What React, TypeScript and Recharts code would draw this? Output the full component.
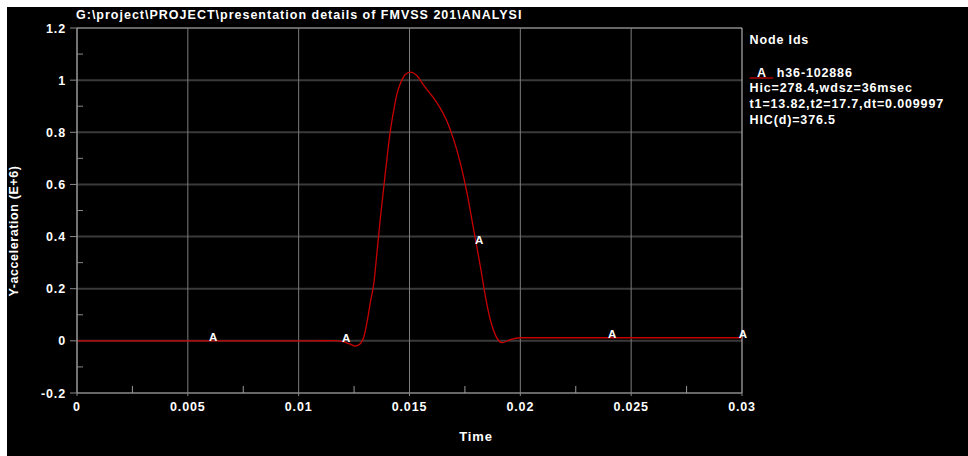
import React from 'react';
import { ComposedChart, Line, Scatter, XAxis, YAxis, ReferenceLine } from 'recharts';

// Head acceleration trace (time in s, Y-acceleration in E+6)
const timeSec = [
  0, 0.002, 0.004, 0.006, 0.008, 0.010, 0.0107, 0.0115, 0.0120, 0.0123,
  0.01256, 0.01279, 0.01294, 0.01309, 0.01324, 0.01339, 0.01354, 0.01369, 0.01384, 0.01399,
  0.01414, 0.01429, 0.01444, 0.01459, 0.01481, 0.01504, 0.01534, 0.01564, 0.01587, 0.0161,
  0.0164, 0.0167, 0.017, 0.0173, 0.0176, 0.0179, 0.0182, 0.01843, 0.01865, 0.01888,
  0.01918, 0.01955, 0.0200, 0.022, 0.024, 0.026, 0.028, 0.030,
];
const yAccel = [
  0, 0, 0, 0, 0, 0, 0, 0.001, -0.003, -0.012,
  -0.02, -0.01, 0.015, 0.075, 0.15, 0.22, 0.345, 0.475, 0.59, 0.705,
  0.808, 0.885, 0.949, 0.987, 1.022, 1.031, 1.017, 0.98, 0.955, 0.93,
  0.891, 0.84, 0.77, 0.68, 0.565, 0.424, 0.284, 0.168, 0.079, 0.021,
  -0.007, 0.005, 0.012, 0.012, 0.012, 0.012, 0.012, 0.012,
];

// Curve identifier markers ("A") placed along the trace
const markerTimes = [0.0061, 0.0121, 0.0181, 0.0241, 0.030];
const markerValues = [0, -0.003, 0.37, 0.012, 0.012];

const xMajorTicks = [0, 0.005, 0.01, 0.015, 0.02, 0.025, 0.03];
const xMinorTicks = [0.0025, 0.0075, 0.0125, 0.0175, 0.0225, 0.0275];
const yMajorTicks = [-0.2, 0, 0.2, 0.4, 0.6, 0.8, 1, 1.2];
const yMinorTicks = [-0.1, 0.1, 0.3, 0.5, 0.7, 0.9, 1.1];

const titleText = 'G:\\project\\PROJECT\\presentation details of FMVSS 201\\ANALYSI';
const legendHeader = 'Node Ids';
const legendCurveTag = 'A';
const legendCurveName = 'h36-102886';
const legendInfo = [
  'Hic=278.4,wdsz=36msec',
  't1=13.82,t2=17.7,dt=0.009997',
  'HIC(d)=376.5',
];

const curveData = timeSec.map((t, i) => ({ t, a: yAccel[i] }));
const markerData = markerTimes.map((t, i) => ({ t, a: markerValues[i] }));

const FONT = '"Liberation Sans", Arial, Helvetica, sans-serif';
const RED = '#c80000';
const SPACING = 0.85;

const XTick = (props: any) => {
  const { x, y, payload } = props;
  const v = payload.value;
  if (!xMajorTicks.includes(v)) {
    return <line x1={x} x2={x} y1={y} y2={y - 7} stroke="#9a9a9a" strokeWidth={1} />;
  }
  return (
    <g>
      <line x1={x} x2={x} y1={y} y2={y + 3} stroke="#8a8a8a" strokeWidth={1} />
      <text x={x} y={y + 18} textAnchor="middle" fill="#ffffff" fontSize={12.5} fontWeight="bold" fontFamily={FONT} letterSpacing={SPACING}>
        {String(v)}
      </text>
    </g>
  );
};

const YTick = (props: any) => {
  const { x, y, payload } = props;
  const v = payload.value;
  if (!yMajorTicks.includes(v)) {
    return <line x1={x} x2={x + 6} y1={y} y2={y} stroke="#8a8a8a" strokeWidth={1} />;
  }
  return (
    <g>
      <line x1={x - 7} x2={x} y1={y} y2={y} stroke="#8a8a8a" strokeWidth={1} />
      <text x={x - 11} y={y + 4.5} textAnchor="end" fill="#ffffff" fontSize={12.5} fontWeight="bold" fontFamily={FONT} letterSpacing={SPACING}>
        {String(v)}
      </text>
    </g>
  );
};

const MarkerA = (props: any) => {
  const { cx, cy } = props;
  return (
    <text x={cx + 1} y={cy} textAnchor="middle" fill="#ffffff" fontSize={11.5} fontWeight="bold" fontFamily={FONT}>
      A
    </text>
  );
};

export default function App() {
  const W = 961;
  const H = 449;
  return (
    <div style={{ position: 'absolute', left: 7, top: 7, width: W, height: H, background: '#000' }}>
      <ComposedChart
        width={W}
        height={H}
        data={curveData}
        margin={{ top: 21, right: 226, bottom: 33, left: 10 }}
      >
        <XAxis
          dataKey="t"
          type="number"
          domain={[0, 0.03]}
          ticks={[...xMajorTicks, ...xMinorTicks].sort((a, b) => a - b)}
          interval={0}
          tickSize={0}
          tickMargin={0}
          tickLine={false}
          tick={XTick}
          axisLine={{ stroke: '#8a8a8a', strokeWidth: 1.5 }}
          height={30}
        />
        <YAxis
          type="number"
          domain={[-0.2, 1.2]}
          ticks={[...yMajorTicks, ...yMinorTicks].sort((a, b) => a - b)}
          interval={0}
          tickSize={0}
          tickMargin={0}
          tickLine={false}
          tick={YTick}
          axisLine={{ stroke: '#9a9a9a', strokeWidth: 1.5 }}
          width={60}
        />
        {yMajorTicks
          .filter((v) => v > -0.2 && v < 1.2)
          .map((v) => (
            <ReferenceLine key={'h' + v} y={v} stroke="#3a3a3a" strokeWidth={2} />
          ))}
        <ReferenceLine y={1.2} stroke="#8a8a8a" strokeWidth={1.5} />
        {xMajorTicks
          .filter((v) => v > 0 && v < 0.03)
          .map((v) => (
            <ReferenceLine key={'v' + v} x={v} stroke="#7c7c7c" strokeWidth={1} />
          ))}
        <ReferenceLine x={0.03} stroke="#d0d0d0" strokeWidth={1} />
        <Line
          dataKey="a"
          type="monotone"
          stroke={RED}
          strokeWidth={1.3}
          dot={false}
          isAnimationActive={false}
        />
        <Scatter data={markerData} dataKey="a" shape={MarkerA} isAnimationActive={false} />
      </ComposedChart>
      <svg
        width={W}
        height={H}
        style={{ position: 'absolute', left: 0, top: 0, pointerEvents: 'none' }}
        fontFamily={FONT}
        fontWeight="bold"
        fill="#ffffff"
      >
        <text x={69} y={12.3} fontSize={12.5} letterSpacing={1.0}>{titleText}</text>
        <text x={742.6} y={37.2} fontSize={12.5} letterSpacing={SPACING}>{legendHeader}</text>
        <line x1={742.6} x2={766.2} y1={71} y2={71} stroke={RED} strokeWidth={1.3} />
        <text x={750} y={69.8} fontSize={12.5}>{legendCurveTag}</text>
        <text x={769.8} y={69.8} fontSize={12.5} letterSpacing={SPACING}>{legendCurveName}</text>
        {legendInfo.map((s, i) => (
          <text key={s} x={742.6} y={85.4 + i * 15.95} fontSize={12.5} letterSpacing={SPACING}>{s}</text>
        ))}
        <text x={469} y={433.5} fontSize={13} textAnchor="middle" letterSpacing={SPACING}>Time</text>
        <text
          x={6.2}
          y={228.5}
          fontSize={12.5}
          textAnchor="middle"
          letterSpacing={0.6}
          transform="rotate(-90, 6.2, 224)"
        >
          Y-acceleration (E+6)
        </text>
      </svg>
    </div>
  );
}
